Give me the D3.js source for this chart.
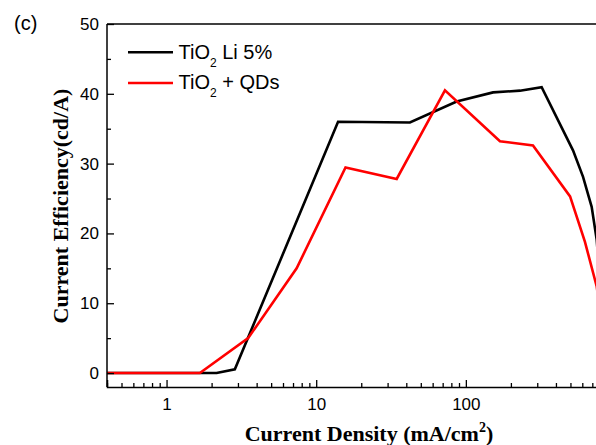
<!DOCTYPE html>
<html>
<head>
<meta charset="utf-8">
<script src="https://cdn.jsdelivr.net/npm/d3@7"></script>
<style>
  html, body { margin: 0; padding: 0; background: #fff; overflow: hidden; }
  svg { display: block; }
</style>
</head>
<body>
<svg id="chart" width="596" height="445"></svg>
<script>
// Current density (mA/cm^2) and current efficiency (cd/A) for each device
const densityLi = [0.4, 1.67, 2.16, 2.86, 14.0, 42.3, 86.8, 152, 230, 321, 520, 607, 693, 749, 800];
const efficiencyLi = [0, 0, 0, 0.53, 36.0, 35.9, 38.9, 40.2, 40.45, 40.95, 31.9, 28.1, 23.8, 19.1, 11];

const densityQD = [0.4, 1.67, 3.51, 7.4, 15.7, 34.5, 72.5, 169, 281, 497, 625, 749, 800];
const efficiencyQD = [0, 0, 5.0, 15.0, 29.45, 27.8, 40.5, 33.2, 32.6, 25.3, 18.8, 12.4, 8];

const seriesNames = ["TiO\u2082 Li 5%", "TiO\u2082 + QDs"];
const seriesColors = ["#000000", "#ff0000"];

const xMajorTicks = [1, 10, 100];
const yMajorTicks = [0, 10, 20, 30, 40, 50];
const yMinorTicks = [5, 15, 25, 35, 45];

(function draw() {
  const svg = d3.select("#chart");
  const plotLeft = 107, plotRight = 615.5, plotTop = 24, plotBottom = 387;

  const x = d3.scaleLog().domain([0.4, 1000]).range([plotLeft, plotRight]);
  const y = d3.scaleLinear().domain([-2, 50]).range([plotBottom, plotTop]);

  // minor log ticks: 2..9 in each decade inside the domain
  const xMinorTicks = [];
  [0.1, 1, 10, 100].forEach(d => {
    for (let k = 2; k <= 9; k++) {
      const v = +(d * k).toPrecision(3);
      if (v >= 0.4 && v <= 1000 && !xMajorTicks.includes(v)) xMinorTicks.push(v);
    }
  });

  // clip so lines stay within the frame
  svg.append("defs").append("clipPath").attr("id", "plotClip")
    .append("rect").attr("x", plotLeft).attr("y", plotTop)
    .attr("width", plotRight - plotLeft).attr("height", plotBottom - plotTop);

  const line = d3.line().x(d => x(d[0])).y(d => y(d[1]));

  const seriesData = [
    d3.zip(densityLi, efficiencyLi),
    d3.zip(densityQD, efficiencyQD)
  ];

  const plot = svg.append("g").attr("clip-path", "url(#plotClip)");
  seriesData.forEach((pts, i) => {
    plot.append("path")
      .datum(pts)
      .attr("fill", "none")
      .attr("stroke", seriesColors[i])
      .attr("stroke-width", 2.6)
      .attr("stroke-linejoin", "miter")
      .attr("d", line);
  });

  // frame (top) and axes
  svg.append("line").attr("x1", plotLeft).attr("x2", plotRight)
    .attr("y1", plotTop).attr("y2", plotTop)
    .attr("stroke", "#000").attr("stroke-width", 1.5);

  const tickFont = "'Liberation Sans', Arial, sans-serif";

  const xAxis = svg.append("g").attr("transform", `translate(0,${plotBottom})`)
    .call(d3.axisBottom(x).tickValues(xMajorTicks).tickSize(-7).tickPadding(11)
      .tickFormat(d3.format("d")));
  xAxis.select(".domain").attr("stroke-width", 1.5);
  xAxis.selectAll(".tick line").attr("stroke-width", 1.3);
  xAxis.selectAll(".tick text").attr("font-family", tickFont).attr("font-size", 17).attr("fill", "#000");

  const xMinor = svg.append("g").attr("transform", `translate(0,${plotBottom})`)
    .call(d3.axisBottom(x).tickValues(xMinorTicks).tickSize(-4).tickFormat(""));
  xMinor.select(".domain").remove();
  xMinor.selectAll(".tick line").attr("stroke-width", 1.3);

  const yAxis = svg.append("g").attr("transform", `translate(${plotLeft},0)`)
    .call(d3.axisLeft(y).tickValues(yMajorTicks).tickSize(-7).tickPadding(8));
  yAxis.select(".domain").attr("stroke-width", 1.5).attr("d", `M0,${plotBottom}V${plotTop}`);
  yAxis.selectAll(".tick line").attr("stroke-width", 1.3);
  yAxis.selectAll(".tick text").attr("font-family", tickFont).attr("font-size", 17).attr("fill", "#000");

  const yMinor = svg.append("g").attr("transform", `translate(${plotLeft},0)`)
    .call(d3.axisLeft(y).tickValues(yMinorTicks).tickSize(-4).tickFormat(""));
  yMinor.select(".domain").remove();
  yMinor.selectAll(".tick line").attr("stroke-width", 1.3);

  // axis titles
  const titleFont = "'Liberation Serif', 'Times New Roman', serif";
  const xTitle = svg.append("text")
    .attr("x", 369).attr("y", 441)
    .attr("text-anchor", "middle")
    .attr("font-family", titleFont).attr("font-weight", "bold").attr("font-size", 22);
  xTitle.append("tspan").text("Current Density (mA/cm");
  xTitle.append("tspan").attr("font-size", 14).attr("dy", -9).text("2");
  xTitle.append("tspan").attr("dy", 9).text(")");

  svg.append("text")
    .attr("transform", "translate(68,206) rotate(-90)")
    .attr("text-anchor", "middle")
    .attr("font-family", titleFont).attr("font-weight", "bold").attr("font-size", 22)
    .text("Current Efficiency(cd/A)");

  // panel label
  svg.append("text").attr("x", 14).attr("y", 30)
    .attr("font-family", tickFont).attr("font-size", 20).text("(c)");

  // legend
  const legend = svg.append("g");
  const legendY = [52.3, 83];
  seriesNames.forEach((name, i) => {
    legend.append("line")
      .attr("x1", 128).attr("x2", 173)
      .attr("y1", legendY[i]).attr("y2", legendY[i])
      .attr("stroke", seriesColors[i]).attr("stroke-width", 2.6);
    const t = legend.append("text")
      .attr("x", 178.5).attr("y", legendY[i] + 6.2)
      .attr("font-family", tickFont).attr("font-size", 20).attr("fill", "#000");
    const parts = name.split("\u2082");
    t.append("tspan").text(parts[0]);
    t.append("tspan").attr("font-size", 12).attr("dy", 8).text("2");
    t.append("tspan").attr("dy", -8).text(parts[1]);
  });
})();
</script>
</body>
</html>
